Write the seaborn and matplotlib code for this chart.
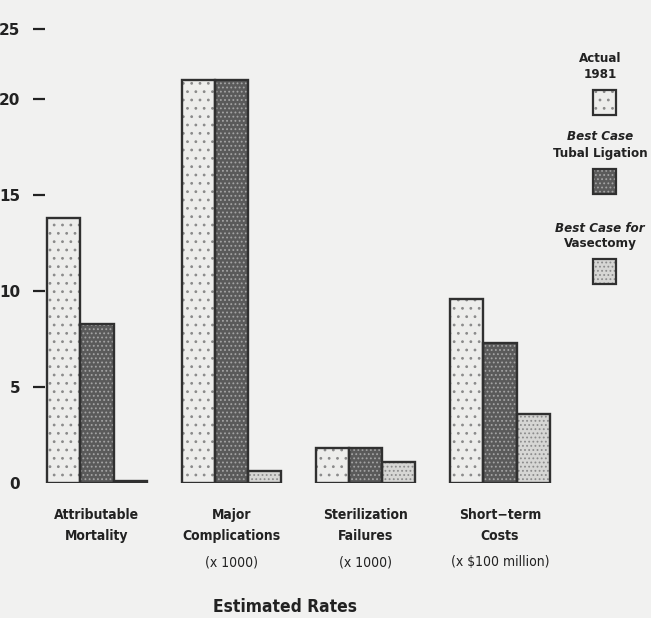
import numpy as np
import pandas as pd
import matplotlib
matplotlib.use("Agg")
import matplotlib.pyplot as plt
import matplotlib.patches as mpatches
import seaborn as sns

# ---- data ----
categories = ["Attributable\nMortality", "Major\nComplications", "Sterilization\nFailures", "Short\u2212term\nCosts"]
subtitles = ["", "(x 1000)", "(x 1000)", "(x $100 million)"]
series = ["Actual 1981", "Best Case Tubal Ligation", "Best Case for Vasectomy"]
actual_1981 = [13.8, 21.0, 1.8, 9.6]
best_tubal = [8.3, 21.0, 1.8, 7.3]
best_vasectomy = [0.1, 0.6, 1.1, 3.6]
ytick_values = [0, 5, 10, 15, 20, 23.65]
ytick_labels = ["0", "5", "10", "15", "20", "25"]

df = pd.DataFrame({
    "category": categories * 3,
    "series": [series[0]] * 4 + [series[1]] * 4 + [series[2]] * 4,
    "value": actual_1981 + best_tubal + best_vasectomy,
})

sns.set_style("white")
plt.rcParams["font.family"] = ["DejaVu Sans"]
plt.rcParams["font.stretch"] = "condensed"

bg = "#f1f1f0"
fills = ["#ededeb", "#5a5a5a", "#d6d6d4"]
hatch_cols = ["#8a8a8a", "#a4a4a4", "#8c8c8c"]
hatches = ["..", "....", "...."]
edge = "#303030"
txt = "#222222"

fig = plt.figure(figsize=(6.51, 6.18), dpi=100, facecolor=bg)
W, H = 651, 618
ax_left, ax_right = 45, 560
y0_px, ytop_px = 483, 3
ax = fig.add_axes([ax_left / W, (H - y0_px) / H, (ax_right - ax_left) / W, (y0_px - ytop_px) / H])
ax.set_facecolor(bg)

plt.rcParams["hatch.linewidth"] = 0.8
sns.barplot(data=df, x="category", y="value", hue="series", hue_order=series,
            order=categories, palette=fills, width=0.74, gap=0, dodge=True,
            edgecolor=edge, linewidth=0, legend=False, ax=ax, saturation=1)

for i, cont in enumerate(ax.containers):
    for p in cont:
        p.set_hatch(hatches[i])
        p.set_edgecolor(hatch_cols[i])
        p.set_linewidth(0)
        outline = mpatches.Rectangle(p.get_xy(), p.get_width(), p.get_height(),
                                     fill=False, edgecolor=edge, linewidth=1.7, zorder=p.get_zorder() + 0.1)
        ax.add_patch(outline)

ax.set_ylim(0, 25)
ax.set_xlim(-0.387, 3.447)
ax.set_xlabel("")
ax.set_ylabel("")
for s in ax.spines.values():
    s.set_visible(False)

ax.set_yticks(ytick_values)
ax.set_yticklabels(ytick_labels, fontsize=11, fontweight="bold", color=txt, fontstretch="normal")
ax.tick_params(axis="y", left=True, direction="out", length=9, width=1.6, pad=9, color=txt)
ax.yaxis.get_major_ticks()[0].tick1line.set_visible(False)

ax.set_xticks(range(4))
ax.set_xticklabels(categories, fontsize=10, fontweight="bold", color=txt, linespacing=1.6)
ax.tick_params(axis="x", bottom=False, length=0, pad=18)

for i, sub in enumerate(subtitles):
    if sub:
        ax.annotate(sub, xy=(i, 0), xycoords=("data", "axes fraction"),
                    xytext=(0, -79), textcoords="offset pixels", ha="center", va="center",
                    fontsize=10, color=txt, annotation_clip=False)

fig.text(285 / W, 1 - 607 / H, "Estimated Rates", ha="center", va="center",
         fontsize=12.5, fontweight="bold", color=txt)

# legend
leg = [
    (("Actual", "normal"), ("1981", "normal"), 58, 75, 90),
    (("Best Case", "italic"), ("Tubal Ligation", "normal"), 137, 153, 169),
    (("Best Case for", "italic"), ("Vasectomy", "normal"), 228, 244, 259),
]
cx = 600
for k, (l1, l2, y1, y2, ys) in enumerate(leg):
    fig.text(cx / W, 1 - y1 / H, l1[0], ha="center", va="center", fontsize=9.5,
             fontweight="bold", style=l1[1], color=txt)
    fig.text(cx / W, 1 - y2 / H, l2[0], ha="center", va="center", fontsize=9.5,
             fontweight="bold", color=txt)
    r = mpatches.Rectangle((593 / W, 1 - (ys + 25) / H), 23 / W, 25 / H,
                           transform=fig.transFigure, facecolor=fills[k],
                           edgecolor=hatch_cols[k], linewidth=0, hatch=hatches[k])
    fig.patches.append(r)
    r2 = mpatches.Rectangle((593 / W, 1 - (ys + 25) / H), 23 / W, 25 / H,
                            transform=fig.transFigure, fill=False,
                            edgecolor=edge, linewidth=1.6)
    fig.patches.append(r2)

fig.savefig("out.png", dpi=100, facecolor=bg)
